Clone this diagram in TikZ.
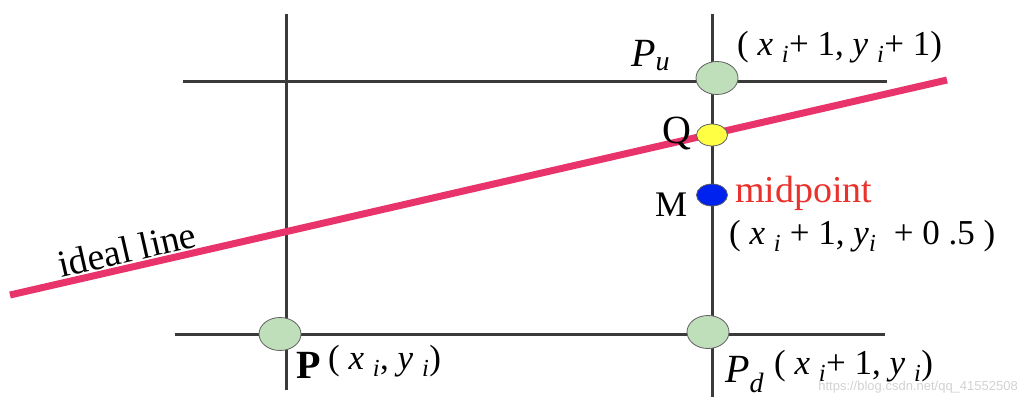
\documentclass[tikz,border=0pt]{standalone}
\usepackage{fontspec}
\setmainfont{Liberation Serif}
\newfontfamily\wmfont{Liberation Sans}
\usetikzlibrary{shapes.geometric}
\definecolor{gridc}{HTML}{3A3A3A}
\definecolor{idealc}{HTML}{E8336B}
\definecolor{ptgreen}{HTML}{BFDFBA}
\definecolor{ptyellow}{HTML}{FFFF44}
\definecolor{ptblue}{HTML}{0022EE}
\definecolor{midred}{HTML}{E8322B}
\tikzset{
  gridline/.style={draw=gridc, line width=3pt},
  ideal/.style={draw=idealc, line width=7pt},
  bigpt/.style={ellipse, draw=gridc!80, line width=0.8pt, fill=ptgreen, minimum width=42pt, minimum height=33pt, inner sep=0pt},
  smallpt/.style={ellipse, draw=gridc!80, line width=0.8pt, minimum width=31pt, minimum height=22pt, inner sep=0pt},
  lbl/.style={inner sep=0pt, font=\fontsize{35}{37}\selectfont},
  biglbl/.style={inner sep=0pt, font=\fontsize{40}{42}\selectfont},
  midlbl/.style={inner sep=0pt, font=\fontsize{38}{40}\selectfont},
}
\newcommand{\sbi}{\textsubscript{\textit{i}}}
\begin{document}
\begin{tikzpicture}[x=1pt, y=-1pt]
\useasboundingbox (0,0) rectangle (1024,400);
% grid
\coordinate (vlt) at (286,14);
\coordinate (vlb) at (286,390);
\coordinate (vrt) at (712,14);
\coordinate (vrb) at (712,397);
\coordinate (htl) at (183,81);
\coordinate (htr) at (887,81);
\coordinate (hbl) at (175,334);
\coordinate (hbr) at (885,334);
\draw[gridline] (vlt) -- (vlb);
\draw[gridline] (vrt) -- (vrb);
\draw[gridline] (htl) -- (htr);
\draw[gridline] (hbl) -- (hbr);
% ideal line
\coordinate (ils) at (10,295);
\coordinate (ile) at (947,80);
\draw[ideal] (ils) -- (ile);
% points
\node[bigpt] (Pu) at (717,78) {};
\node[smallpt, fill=ptyellow] (Q) at (712,135) {};
\node[smallpt, fill=ptblue] (M) at (712,195) {};
\node[bigpt] (P) at (280,334) {};
\node[bigpt] (Pd) at (708,332) {};
% labels
\node[biglbl, anchor=base west] (lPu) at (631,66) {\textit{P}\textsubscript{\textit{u}}};
\node[lbl, anchor=base west] (cPu) at (737,55) {( \textit{x} \sbi+ 1, \textit{y} \sbi+ 1)};
\node[biglbl, anchor=base west] (lQ) at (662,143) {Q};
\node[midlbl, anchor=base west] (lM) at (655,216) {\fontsize{36}{38}\selectfont M};
\node[midlbl, anchor=base west, text=midred] (lmid) at (735,202) {midpoint};
\node[lbl, anchor=base west] (cM) at (729,244) {( \textit{x} \sbi\ + 1, \textit{y}\sbi\ \ + 0 .5 )};
\node[midlbl, anchor=base, rotate=12.9] (lideal) at (130,262) {ideal line};
\node[biglbl, anchor=base west] (lP) at (296,378) {\textbf{P}};
\node[lbl, anchor=base west] (cP) at (328,369) {( \textit{x} \sbi, \textit{y} \sbi)};
\node[biglbl, anchor=base west] (lPd) at (725,382) {\textit{P}\textsubscript{\textit{d}}};
\node[lbl, anchor=base west] (cPd) at (774,374) {( \textit{x} \sbi+ 1, \textit{y} \sbi)};
\node[inner sep=0pt, anchor=base east, text=gray!35, font=\wmfont\fontsize{13}{14}\selectfont] (wm) at (1018,390) {https://blog.csdn.net/qq\_41552508};
\end{tikzpicture}
\end{document}
